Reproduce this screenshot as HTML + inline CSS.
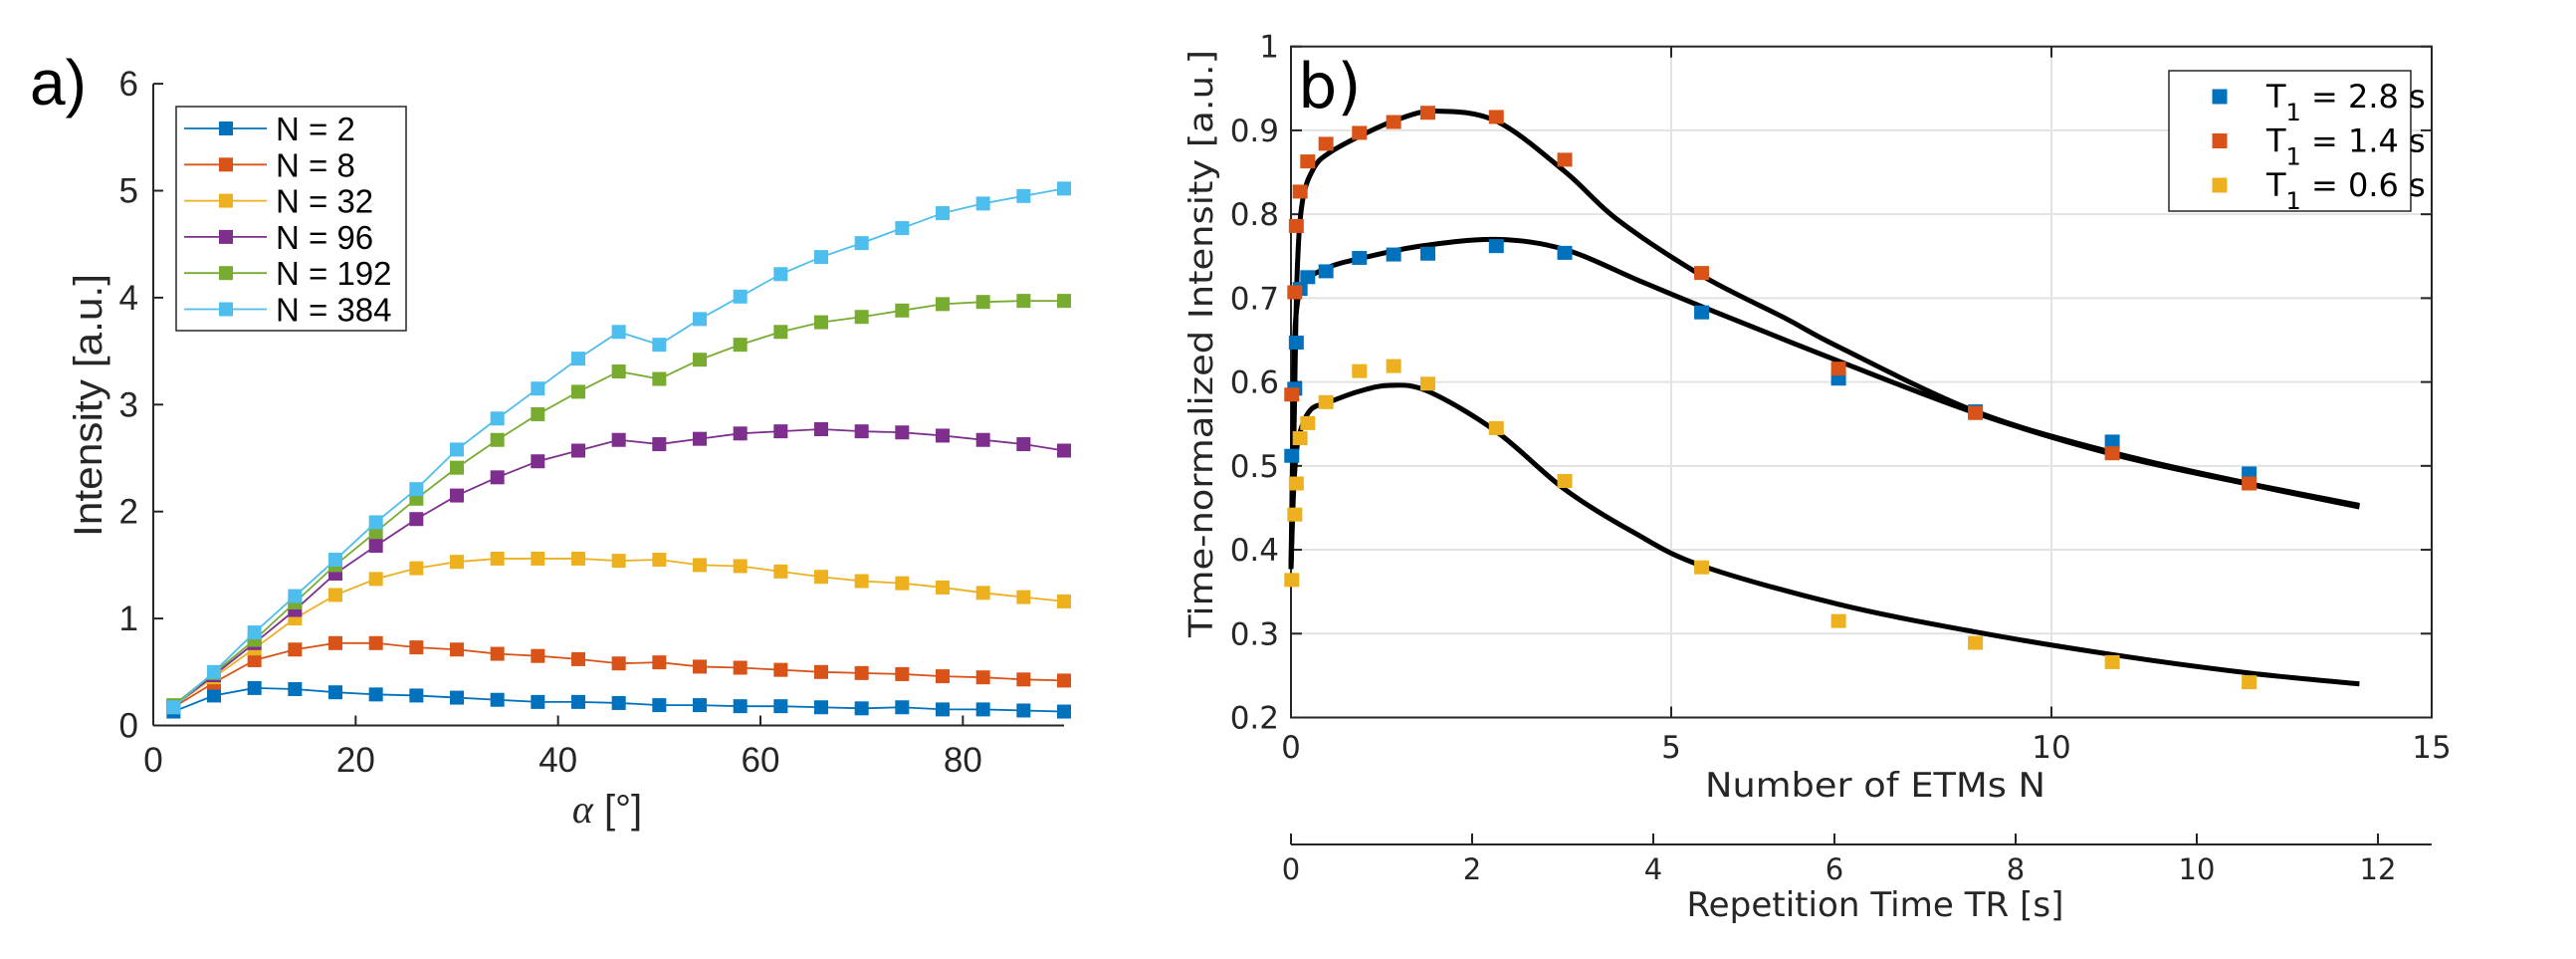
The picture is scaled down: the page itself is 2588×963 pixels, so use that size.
<!DOCTYPE html>
<html><head><meta charset="utf-8"><style>
html,body{margin:0;padding:0;background:#fff;}
svg{display:block;}
</style></head><body>
<svg id="fig" width="2588" height="963" viewBox="0 0 2588 963" xmlns="http://www.w3.org/2000/svg">
<rect width="2588" height="963" fill="#fff"/>
<g id="left"></g>
<g id="right"></g>
</svg>
<script>
// ---------- Panel a data ----------
const alphaValues = [2,6,10,14,18,22,26,30,34,38,42,46,50,54,58,62,66,70,74,78,82,86,90];
const seriesNames = ["N = 2","N = 8","N = 32","N = 96","N = 192","N = 384"];
const seriesN2 = [0.13,0.28,0.35,0.34,0.31,0.29,0.28,0.26,0.24,0.22,0.22,0.21,0.19,0.19,0.18,0.18,0.17,0.16,0.17,0.15,0.15,0.14,0.13];
const seriesN8 = [0.17,0.40,0.61,0.71,0.77,0.77,0.73,0.71,0.67,0.65,0.62,0.58,0.59,0.55,0.54,0.52,0.50,0.49,0.48,0.46,0.45,0.43,0.42];
const seriesN32 = [0.18,0.45,0.72,1.00,1.22,1.37,1.47,1.53,1.56,1.56,1.56,1.54,1.55,1.50,1.49,1.44,1.39,1.35,1.33,1.29,1.24,1.20,1.16];
const seriesN96 = [0.18,0.47,0.77,1.08,1.42,1.68,1.93,2.15,2.32,2.47,2.57,2.67,2.63,2.68,2.73,2.75,2.77,2.75,2.74,2.71,2.67,2.63,2.57];
const seriesN192 = [0.19,0.49,0.80,1.15,1.50,1.81,2.12,2.41,2.67,2.91,3.12,3.31,3.24,3.42,3.56,3.68,3.77,3.82,3.88,3.94,3.96,3.97,3.97];
const seriesN384 = [0.17,0.50,0.87,1.21,1.55,1.90,2.21,2.58,2.87,3.15,3.43,3.68,3.56,3.80,4.01,4.22,4.38,4.51,4.65,4.79,4.88,4.95,5.02];
const leftXTicks = [0,20,40,60,80];
const leftYTicks = [0,1,2,3,4,5,6];

// ---------- Panel b data ----------
const etmN = [0.01,0.05,0.07,0.12,0.22,0.46,0.9,1.35,1.8,2.7,3.6,5.4,7.2,9.0,10.8,12.6];
const intensityT28 = [0.512,0.592,0.647,0.711,0.725,0.732,0.748,0.752,0.753,0.762,0.754,0.683,0.604,0.565,0.529,0.491];
const intensityT14 = [0.585,0.707,0.786,0.827,0.863,0.884,0.897,0.910,0.921,0.916,0.865,0.730,0.616,0.563,0.515,0.479];
const intensityT06 = [0.364,0.442,0.479,0.533,0.551,0.576,0.613,0.619,0.598,0.545,0.482,0.379,0.315,0.289,0.266,0.242];
const fitT14N = [0,0.04,0.08,0.15,0.3,0.5,0.9,1.4,1.9,2.7,3.6,4.3,5.4,6.5,7.2,9.0,10.8,12.6,14.05];
const fitT14V = [0.377,0.545,0.727,0.815,0.855,0.873,0.893,0.913,0.923,0.911,0.851,0.793,0.727,0.676,0.642,0.565,0.516,0.479,0.453];
const fitT28N = [0,0.04,0.08,0.18,0.5,0.9,1.7,2.7,3.6,4.6,5.4,7.2,9.0,10.8,12.6,14.05];
const fitT28V = [0.377,0.618,0.691,0.72,0.737,0.747,0.762,0.770,0.758,0.72,0.69,0.625,0.563,0.514,0.478,0.451];
const fitT06N = [0,0.04,0.1,0.25,0.5,0.9,1.3,1.8,2.7,3.6,4.5,5.4,7.2,9.0,10.8,12.6,14.05];
const fitT06V = [0.377,0.48,0.533,0.566,0.576,0.589,0.596,0.589,0.541,0.472,0.421,0.381,0.335,0.302,0.275,0.253,0.240];
const rightXTicks = [0,5,10,15];
const rightYTicks = [0.2,0.3,0.4,0.5,0.6,0.7,0.8,0.9,1];
const trTicks = [0,2,4,6,8,10,12];
const legendLabelsB = ["2.8 s","1.4 s","0.6 s"];

const NS = "http://www.w3.org/2000/svg";
function mk(parent, tag, attrs, text){
  const e = document.createElementNS(NS, tag);
  for (const k in attrs) e.setAttribute(k, attrs[k]);
  if (text !== undefined) e.textContent = text;
  parent.appendChild(e);
  return e;
}
const colors = ["#0072BD","#D95319","#EDB120","#7E2F8E","#77AC30","#4DBEEE"];

// ---------- Panel a ----------
const L = document.getElementById('left');
const ax = v => 154 + (v/90)*915;
const ay = v => 728.5 - v*107.4;
const fontA = '"Liberation Sans", Arial, sans-serif';

let e;
e = mk(L,'line',{x1:154,y1:ay(0),x2:1069,y2:ay(0),stroke:'#262626','stroke-width':2});
 
e = mk(L,'line',{x1:154,y1:ay(6),x2:154,y2:ay(0),stroke:'#262626','stroke-width':2});
 
leftXTicks.forEach(t=>{
  mk(L,'line',{x1:ax(t),y1:ay(0),x2:ax(t),y2:ay(0)-10,stroke:'#262626','stroke-width':2});
  const tx = mk(L,'text',{x:ax(t),y:775,'text-anchor':'middle','font-family':fontA,'font-size':35,fill:'#262626'},String(t));
   
});
leftYTicks.forEach(t=>{
  mk(L,'line',{x1:154,y1:ay(t),x2:164,y2:ay(t),stroke:'#262626','stroke-width':2});
  const tx = mk(L,'text',{x:139,y:ay(t)+12,'text-anchor':'end','font-family':fontA,'font-size':35,fill:'#262626'},String(t));
   
});
e = mk(L,'text',{x:0,y:0,transform:'translate(102,407) rotate(-90)','text-anchor':'middle','font-family':fontA,'font-size':40,fill:'#262626',textLength:264,lengthAdjust:'spacingAndGlyphs'},'Intensity [a.u.]');
 
e = mk(L,'text',{x:610,y:826,'text-anchor':'middle','font-family':fontA,'font-size':40,fill:'#262626'});
 
mk(e,'tspan',{'font-family':'"Liberation Serif", serif','font-style':'italic'},'α');
mk(e,'tspan',{},' [°]');
e = mk(L,'text',{x:30,y:105,'font-family':fontA,'font-size':64,fill:'#000'},'a)');
 

const seriesA = [seriesN2,seriesN8,seriesN32,seriesN96,seriesN192,seriesN384];
seriesA.forEach((s,i)=>{
  const g = mk(L,'g',{});
   
  const pts = s.map((v,j)=>ax(alphaValues[j])+','+ay(v)).join(' ');
  mk(g,'polyline',{points:pts,fill:'none',stroke:colors[i],'stroke-width':1.8});
  s.forEach((v,j)=>{
    const m = mk(g,'rect',{x:ax(alphaValues[j])-7,y:ay(v)-7,width:14,height:14,fill:colors[i]});
     
  });
});
// legend a
const lg = mk(L,'g',{});
 
mk(lg,'rect',{x:177,y:107,width:231,height:225,fill:'#fff',stroke:'#262626','stroke-width':1.5});
seriesNames.forEach((n,i)=>{
  const y = 129 + i*36.3;
  const en = mk(lg,'g',{});
   
  mk(en,'line',{x1:185,y1:y,x2:268,y2:y,stroke:colors[i],'stroke-width':1.8});
  mk(en,'rect',{x:220,y:y-7,width:14,height:14,fill:colors[i]});
  mk(en,'text',{x:277,y:y+12,'font-family':fontA,'font-size':33,fill:'#000'},n);
});

// ---------- Panel b ----------
const R = document.getElementById('right');
const X0=1297, X1=2443, Y0=720.5, Y1=46.7;
const bx = v => X0 + (v/15)*(X1-X0);
const by = v => Y0 - (v-0.2)/0.8*(Y0-Y1);
const tx2 = v => X0 + v*91;
const fontB = '"DejaVu Sans", "Liberation Sans", sans-serif';

rightYTicks.forEach(t=>{
  if (t>0.2 && t<1) mk(R,'line',{x1:X0,y1:by(t),x2:X1,y2:by(t),stroke:'#e3e3e3','stroke-width':2});
  mk(R,'line',{x1:X0,y1:by(t),x2:X0+11,y2:by(t),stroke:'#262626','stroke-width':2});
  mk(R,'line',{x1:X1,y1:by(t),x2:X1-11,y2:by(t),stroke:'#262626','stroke-width':2});
  const t2 = mk(R,'text',{x:1285,y:by(t)+11,'text-anchor':'end','font-family':fontB,'font-size':31,fill:'#262626'},String(t));
   
});
rightXTicks.forEach(t=>{
  if (t>0 && t<15) mk(R,'line',{x1:bx(t),y1:Y0,x2:bx(t),y2:Y1,stroke:'#e3e3e3','stroke-width':2});
  mk(R,'line',{x1:bx(t),y1:Y0,x2:bx(t),y2:Y0-11,stroke:'#262626','stroke-width':2});
  mk(R,'line',{x1:bx(t),y1:Y1,x2:bx(t),y2:Y1+11,stroke:'#262626','stroke-width':2});
  const t2 = mk(R,'text',{x:bx(t),y:761,'text-anchor':'middle','font-family':fontB,'font-size':31,fill:'#262626'},String(t));
   
});
e = mk(R,'rect',{x:X0,y:Y1,width:X1-X0,height:Y0-Y1,fill:'none',stroke:'#262626','stroke-width':2});
 
e = mk(R,'text',{x:1304,y:108,'font-family':fontB,'font-size':62,fill:'#000'},'b)');
 
e = mk(R,'text',{x:0,y:0,transform:'translate(1218,345) rotate(-90)','text-anchor':'middle','font-family':fontB,'font-size':33,fill:'#262626',textLength:590,lengthAdjust:'spacingAndGlyphs'},'Time-normalized Intensity [a.u.]');
 
e = mk(R,'text',{x:1884,y:800,'text-anchor':'middle','font-family':fontB,'font-size':34,fill:'#262626',textLength:342,lengthAdjust:'spacingAndGlyphs'},'Number of ETMs N');
 
// secondary axis
e = mk(R,'line',{x1:X0,y1:848,x2:X1,y2:848,stroke:'#262626','stroke-width':2});
 
trTicks.forEach(t=>{
  mk(R,'line',{x1:tx2(t),y1:848,x2:tx2(t),y2:837,stroke:'#262626','stroke-width':2});
  const t3 = mk(R,'text',{x:tx2(t),y:883,'text-anchor':'middle','font-family':fontB,'font-size':29,fill:'#262626'},String(t));
   
});
e = mk(R,'text',{x:1884,y:920,'text-anchor':'middle','font-family':fontB,'font-size':34,fill:'#262626',textLength:379,lengthAdjust:'spacingAndGlyphs'},'Repetition Time TR [s]');
 

function smoothPath(xs, ys){
  const p = xs.map((x,i)=>[bx(x),by(ys[i])]);
  let d = 'M'+p[0][0]+','+p[0][1];
  for (let i=0;i<p.length-1;i++){
    const p0=p[Math.max(0,i-1)], p1=p[i], p2=p[i+1], p3=p[Math.min(p.length-1,i+2)];
    const c1x=p1[0]+(p2[0]-p0[0])/6, c1y=p1[1]+(p2[1]-p0[1])/6;
    const c2x=p2[0]-(p3[0]-p1[0])/6, c2y=p2[1]-(p3[1]-p1[1])/6;
    d += ' C'+c1x+','+c1y+' '+c2x+','+c2y+' '+p2[0]+','+p2[1];
  }
  return d;
}
const fits = [[fitT28N,fitT28V,'fit-curve-t1-2-8'],[fitT14N,fitT14V,'fit-curve-t1-1-4'],[fitT06N,fitT06V,'fit-curve-t1-0-6']];
fits.forEach(f=>{
  const c = mk(R,'path',{d:smoothPath(f[0],f[1]),fill:'none',stroke:'#000','stroke-width':5,'stroke-linejoin':'round'});
   
});
const pointSets = [[intensityT28,colors[0],'points-t1-2-8'],[intensityT14,colors[1],'points-t1-1-4'],[intensityT06,colors[2],'points-t1-0-6']];
pointSets.forEach(ps=>{
  const g = mk(R,'g',{});
   
  ps[0].forEach((v,j)=>{
    const m = mk(g,'rect',{x:bx(etmN[j])-7.5,y:by(v)-7,width:15,height:14,fill:ps[1]});
     
  });
});
// legend b
const lb = mk(R,'g',{});
 
mk(lb,'rect',{x:2179,y:71,width:243,height:141,fill:'#fff',stroke:'#262626','stroke-width':1.5});
legendLabelsB.forEach((lab,i)=>{
  const y = 97 + i*44.5;
  const en = mk(lb,'g',{});
   
  mk(en,'rect',{x:2222.5,y:y-7.5,width:15,height:15,fill:colors[i]});
  const t = mk(en,'text',{x:2277,y:y+11,'font-family':fontB,'font-size':32,fill:'#000'});
  mk(t,'tspan',{},'T');
  mk(t,'tspan',{'font-size':24,dy:13},'1');
  mk(t,'tspan',{dy:-13},' = '+lab);
});
</script>
</body></html>
